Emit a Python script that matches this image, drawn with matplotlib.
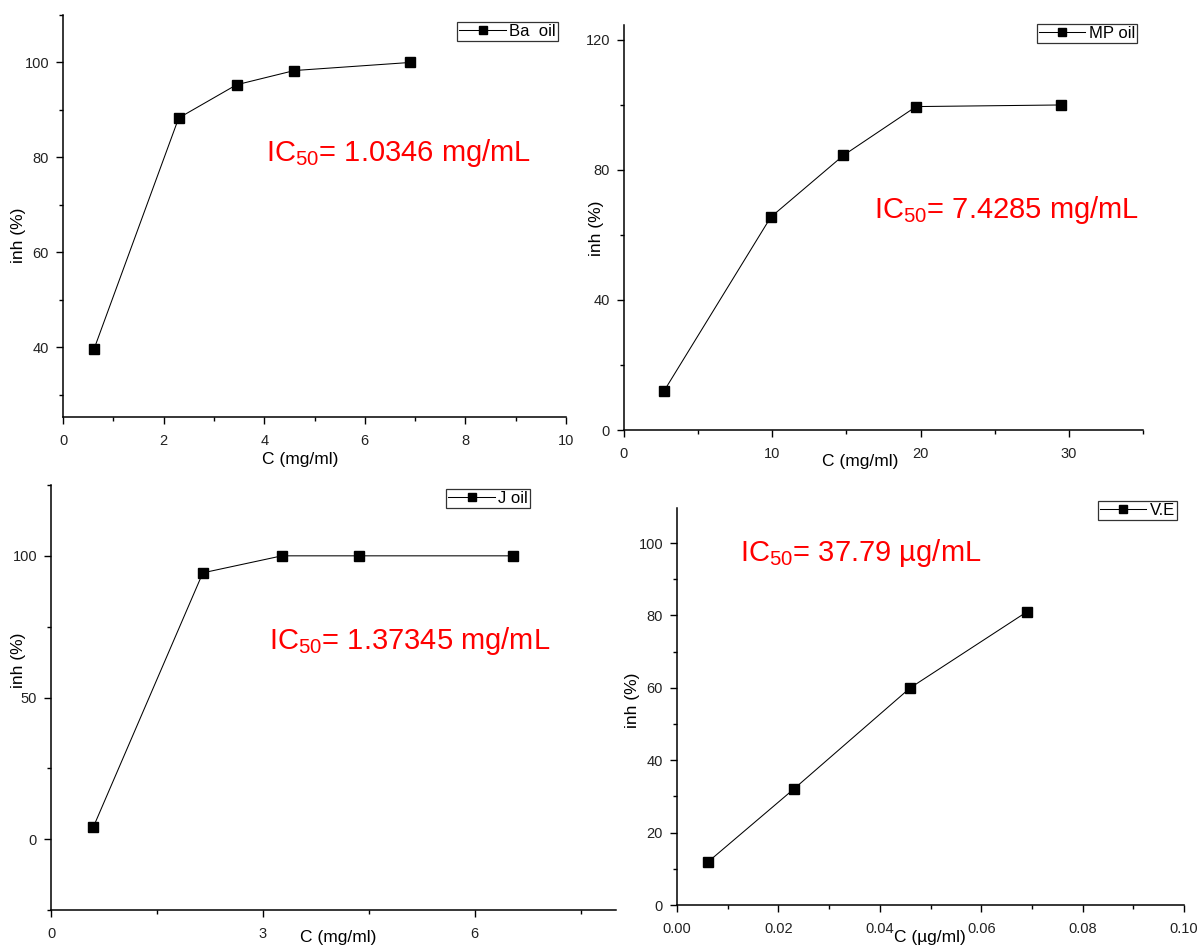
import matplotlib
matplotlib.use("Agg")
import matplotlib.pyplot as plt
from matplotlib.ticker import MultipleLocator, FormatStrFormatter

plt.rcParams['font.family'] = ['Liberation Sans', 'DejaVu Sans']
plt.rcParams['mathtext.fontset'] = 'custom'
plt.rcParams['mathtext.rm'] = 'Liberation Sans'
plt.rcParams['mathtext.it'] = 'Liberation Sans'

# ---- data ----
ba_x = [0.62, 2.30, 3.45, 4.60, 6.90]
ba_y = [39.7, 88.3, 95.3, 98.3, 100.0]

mp_x = [2.7, 9.9, 14.8, 19.7, 29.5]
mp_y = [12.0, 65.5, 84.5, 99.5, 100.0]

j_x = [0.60, 2.15, 3.27, 4.36, 6.54]
j_y = [4.3, 94.0, 100.0, 100.0, 100.0]

ve_x = [0.0062, 0.023, 0.046, 0.069]
ve_y = [12.0, 32.0, 60.0, 81.0]

labels = ["Ba  oil", "MP oil", "J oil", "V.E"]
ic50_texts = [r"IC$_{50}$= 1.0346 mg/mL", r"IC$_{50}$= 7.4285 mg/mL",
              r"IC$_{50}$= 1.37345 mg/mL", r"IC$_{50}$= 37.79 µg/mL"]
xlabels = ["C (mg/ml)", "C (mg/ml)", "C (mg/ml)", "C (µg/ml)"]
ylabel = "inh (%)"

W, H = 1198, 946
fig = plt.figure(figsize=(W / 100, H / 100), dpi=100)

def rect(l, r, t, b):
    return [l / W, 1 - b / H, (r - l) / W, (b - t) / H]

panels = [
    dict(x=ba_x, y=ba_y, rect=rect(63, 566, 15, 417), xlim=(0, 10), ylim=(25.3, 110),
         xmaj=2, xmin=1, ymaj=20, ymin=10, xfmt="%d", lab=labels[0], txt=ic50_texts[0],
         txtpos=(266, 153), xl=xlabels[0], xlpos=(300, 459), ylpos=(18, 235),
         legpos=(558, 22)),
    dict(x=mp_x, y=mp_y, rect=rect(624, 1143, 25, 430), xlim=(0, 35), ylim=(0, 124.6),
         xmaj=10, xmin=5, ymaj=40, ymin=20, xfmt="%d", lab=labels[1], txt=ic50_texts[1],
         txtpos=(874, 210), xl=xlabels[1], xlpos=(860, 461), ylpos=(597, 228),
         legpos=(1137, 24)),
    dict(x=j_x, y=j_y, rect=rect(51, 616, 485, 910), xlim=(0, 8), ylim=(-25, 125),
         xmaj=3, xmin=1.5, ymaj=50, ymin=25, xfmt="%d", lab=labels[2], txt=ic50_texts[2],
         txtpos=(269, 641), xl=xlabels[2], xlpos=(338, 937), ylpos=(18, 660),
         legpos=(530, 489)),
    dict(x=ve_x, y=ve_y, rect=rect(677, 1184, 508, 905), xlim=(0, 0.10), ylim=(0, 109.7),
         xmaj=0.02, xmin=0.01, ymaj=20, ymin=10, xfmt="%.2f", lab=labels[3], txt=ic50_texts[3],
         txtpos=(740, 553), xl=xlabels[3], xlpos=(930, 937), ylpos=(632, 700),
         legpos=(1177, 501)),
]

for p in panels:
    ax = fig.add_axes(p["rect"])
    ax.plot(p["x"], p["y"], color="black", lw=0.75, marker="s", ms=6.8,
            mfc="black", mec="black", label=p["lab"], clip_on=False)
    ax.set_xlim(*p["xlim"])
    ax.set_ylim(*p["ylim"])
    for s in ("top", "right"):
        ax.spines[s].set_visible(False)
    for s in ("left", "bottom"):
        ax.spines[s].set_linewidth(1.1)
    ax.xaxis.set_major_locator(MultipleLocator(p["xmaj"]))
    ax.xaxis.set_minor_locator(MultipleLocator(p["xmin"]))
    ax.yaxis.set_major_locator(MultipleLocator(p["ymaj"]))
    ax.yaxis.set_minor_locator(MultipleLocator(p["ymin"]))
    ax.xaxis.set_major_formatter(FormatStrFormatter(p["xfmt"]))
    ax.tick_params(which="major", direction="out", length=5, width=1.0,
                   labelsize=10.5, colors="black", labelcolor="#222222")
    ax.tick_params(axis="x", which="major", pad=7)
    ax.tick_params(axis="y", which="major", pad=5)
    ax.tick_params(which="minor", direction="out", length=3, width=1.0)
    ax.set_xlabel(p["xl"], fontsize=12.5)
    ax.set_ylabel(ylabel, fontsize=12.5)
    inv = ax.transAxes.inverted()
    xl = inv.transform(fig.transFigure.transform((p["xlpos"][0] / W, 1 - p["xlpos"][1] / H)))
    yl = inv.transform(fig.transFigure.transform((p["ylpos"][0] / W, 1 - p["ylpos"][1] / H)))
    ax.xaxis.set_label_coords(xl[0], xl[1])
    ax.xaxis.label.set_va("center")
    ax.yaxis.set_label_coords(yl[0], yl[1])
    ax.yaxis.label.set_va("center")
    fig.text(p["txtpos"][0] / W, 1 - p["txtpos"][1] / H, p["txt"], color="#ff0000",
             fontsize=21, ha="left", va="center")
    leg = ax.legend(loc="upper right",
                    bbox_to_anchor=(p["legpos"][0] / W, 1 - p["legpos"][1] / H),
                    bbox_transform=fig.transFigure, fontsize=12, frameon=True,
                    fancybox=False, shadow=False, handlelength=2.8, handletextpad=0.2,
                    borderpad=0.12, borderaxespad=0, markerscale=0.8)
    leg.get_frame().set_edgecolor("black")
    leg.get_frame().set_linewidth(0.9)

fig.savefig("out.png", dpi=100)
